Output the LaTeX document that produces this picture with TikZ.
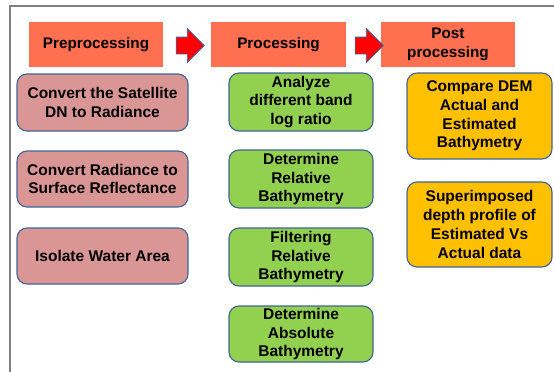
\documentclass[tikz,border=0pt]{standalone}
\usepackage{fontspec}
\setmainfont{Liberation Sans}
\usepackage{tikz}
\usetikzlibrary{shapes.arrows}
\usepackage{xcolor}
\definecolor{headfill}{RGB}{255,112,80}
\definecolor{prefill}{RGB}{218,150,148}
\definecolor{procfill}{RGB}{146,208,80}
\definecolor{postfill}{RGB}{255,192,0}
\definecolor{boxline}{RGB}{65,100,150}
\definecolor{framegray}{RGB}{128,128,128}

\begin{document}
\begin{tikzpicture}[x=1pt,y=-1pt]
  \tikzset{stagehead/.style={rectangle,fill=headfill,minimum width=134pt,minimum height=45pt,inner sep=0pt,align=center,font=\bfseries\fontsize{15.3}{18.5}\selectfont}}
  \tikzset{stepbox/.style={rectangle,rounded corners=10pt,draw=boxline,line width=1.1pt,inner sep=0pt,align=center,font=\bfseries\fontsize{15.5}{18.7}\selectfont}}
  \tikzset{blockarrow/.style={single arrow,fill=red,draw=boxline,line width=0.8pt,inner sep=8pt,minimum height=28pt,single arrow head extend=8.5pt}}

  \useasboundingbox (0,0) rectangle (554,372);
  \draw[framegray, line width=2.8pt] (10,372) -- (10,6) -- (556,6);

  \node[stagehead] (pre) at (96,44.5) {Preprocessing};
  \node[stagehead,minimum width=135pt] (proc) at (278.5,44.5) {Processing};
  \node[stagehead] (post) at (448,44.5) {Post\\processing};
  \node[blockarrow] (arr1) at (186,45.5) {};
  \node[blockarrow] (arr2) at (365,45.5) {};

  \node[stepbox,fill=prefill,minimum width=171pt,minimum height=57pt] (pre1) at (102.5,102.5) {Convert the Satellite\\DN to Radiance};
  \node[stepbox,fill=prefill,minimum width=171pt,minimum height=56pt] (pre2) at (102.5,179) {Convert Radiance to\\Surface Reflectance};
  \node[stepbox,fill=prefill,minimum width=171pt,minimum height=56pt] (pre3) at (102.5,256) {Isolate Water Area};

  \node[stepbox,fill=procfill,minimum width=144pt,minimum height=58pt] (proc1) at (301,102) {Analyze\\different band\\log ratio};
  \node[stepbox,fill=procfill,minimum width=144pt,minimum height=58pt] (proc2) at (301,179) {Determine\\Relative\\Bathymetry};
  \node[stepbox,fill=procfill,minimum width=144pt,minimum height=58pt] (proc3) at (301,257) {Filtering\\Relative\\Bathymetry};
  \node[stepbox,fill=procfill,minimum width=144pt,minimum height=56pt] (proc4) at (301,334) {Determine\\Absolute\\Bathymetry};

  \node[stepbox,fill=postfill,minimum width=145pt,minimum height=86pt] (post1) at (479.5,116) {Compare DEM\\Actual and\\Estimated\\Bathymetry};
  \node[stepbox,fill=postfill,minimum width=145pt,minimum height=85pt] (post2) at (479.5,224.5) {Superimposed\\depth profile of\\Estimated Vs\\Actual data};
\end{tikzpicture}
\end{document}
